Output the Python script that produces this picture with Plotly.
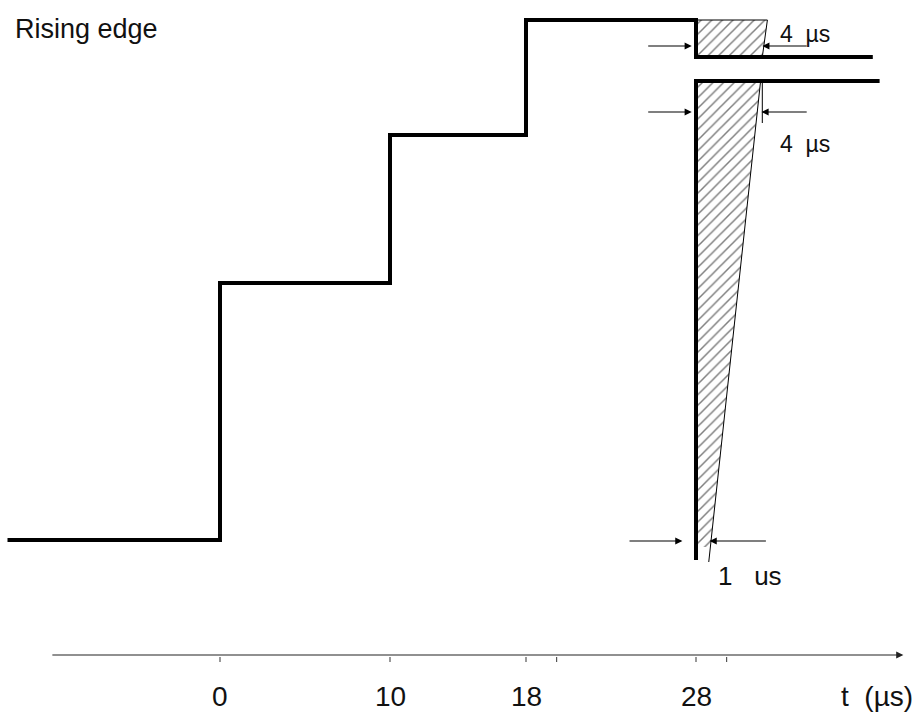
import plotly.graph_objects as go

# time axis in µs, vertical level in arbitrary units (0 = time axis)
step_t = [-12.5, 0, 0, 10, 10, 18, 18, 28, 28, 38.4]
step_level = [115, 115, 372, 372, 520, 520, 635, 635, 598, 598]

edge_t = [38.8, 28, 28]
edge_level = [574, 574, 95]

hatch_top_t = [28, 32.2, 31.9, 28, 28]
hatch_top_level = [635, 635, 598, 598, 635]

hatch_low_t = [28, 31.8, 28.85, 28, 28]
hatch_low_level = [574, 574, 108, 108, 574]

slope_t = [31.8, 28.75]
slope_level = [574, 93]
mark_t = [31.9, 31.9]
mark_level = [573, 532]

# dimension arrows: (tail t, tip t, level)
dim_arrows = [
    (25.1, 27.75, 609), (34.6, 31.9, 609),
    (25.1, 27.75, 543), (34.6, 31.85, 543),
    (24.0, 27.2, 114), (32.2, 28.8, 114),
]
dim_labels = [("4\u00a0\u00a0µs", 32.8, 621, 23), ("4\u00a0\u00a0µs", 32.8, 511, 23),
              ("1\u00a0\u00a0\u00a0us", 29.2, 79, 26)]

tick_vals = [0, 10, 18, 19.8, 28, 29.8]
tick_text = ["0", "10", "18", "", "28", ""]
axis_start, axis_end = -9.95, 40.2
unit_label = "t\u00a0\u00a0(µs)"
unit_t = 38.65
title_text = "Rising edge"

FONT = "Liberation Sans, Arial, sans-serif"
INK = "#111111"

fig = go.Figure()

hatch = dict(shape="/", size=7.5, solidity=0.2, fgcolor="#000000", bgcolor="white")
fig.add_trace(go.Scatter(
    x=hatch_top_t, y=hatch_top_level, mode="lines", fill="toself",
    fillcolor="rgba(0,0,0,0)", fillpattern=hatch,
    line=dict(color="#000000", width=1),
))
fig.add_trace(go.Scatter(
    x=hatch_low_t, y=hatch_low_level, mode="lines", fill="toself",
    fillcolor="rgba(0,0,0,0)", fillpattern=hatch,
    line=dict(width=0),
))
fig.add_trace(go.Scatter(x=slope_t, y=slope_level, mode="lines",
                         line=dict(color="#000000", width=1)))
fig.add_trace(go.Scatter(x=mark_t, y=mark_level, mode="lines",
                         line=dict(color="#000000", width=1)))
fig.add_trace(go.Scatter(x=step_t, y=step_level, mode="lines",
                         line=dict(color="#000000", width=4)))
fig.add_trace(go.Scatter(x=edge_t, y=edge_level, mode="lines",
                         line=dict(color="#000000", width=4)))

# tick marks on the time axis
tick_x, tick_y = [], []
for t in tick_vals:
    tick_x += [t, t, None]
    tick_y += [-2, -7, None]
fig.add_trace(go.Scatter(x=tick_x, y=tick_y, mode="lines",
                         line=dict(color="#555555", width=1.2)))

annotations = []
# time axis with arrow
annotations.append(dict(
    x=axis_end, y=0, ax=axis_start, ay=0, xref="x", yref="y", axref="x", ayref="y",
    showarrow=True, arrowhead=2, arrowsize=1.2, arrowwidth=1.2, arrowcolor="#222222",
    text="", standoff=0,
))
for tail, tip, lvl in dim_arrows:
    annotations.append(dict(
        x=tip, y=lvl, ax=tail, ay=lvl, xref="x", yref="y", axref="x", ayref="y",
        showarrow=True, arrowhead=2, arrowsize=1.3, arrowwidth=1.1, arrowcolor="#000000",
        text="", standoff=0,
    ))
for txt, t, lvl, size in dim_labels:
    annotations.append(dict(x=t, y=lvl, text=txt, showarrow=False, xanchor="left",
                            yanchor="middle", font=dict(family=FONT, size=size, color=INK)))
for t, txt in zip(tick_vals, tick_text):
    if txt:
        annotations.append(dict(x=t, y=-41, text=txt, showarrow=False, xanchor="center",
                                yanchor="middle", font=dict(family=FONT, size=28, color=INK)))
annotations.append(dict(x=unit_t, y=-41, text=unit_label, showarrow=False, xanchor="center",
                        yanchor="middle", font=dict(family=FONT, size=28, color=INK)))
annotations.append(dict(x=-12.2, y=626, text=title_text, showarrow=False, xanchor="left",
                        yanchor="middle", font=dict(family=FONT, size=27, color=INK)))

fig.update_layout(
    width=917, height=713,
    margin=dict(l=0, r=0, t=0, b=0),
    paper_bgcolor="white", plot_bgcolor="white",
    showlegend=False,
    annotations=annotations,
    xaxis=dict(range=[-220 / 17, 697 / 17], visible=False, fixedrange=True),
    yaxis=dict(range=[-58, 655], visible=False, fixedrange=True),
)

fig.write_html(
    "out.html",
    config={"displayModeBar": False},
    post_script="document.body.style.margin='0';",
)
